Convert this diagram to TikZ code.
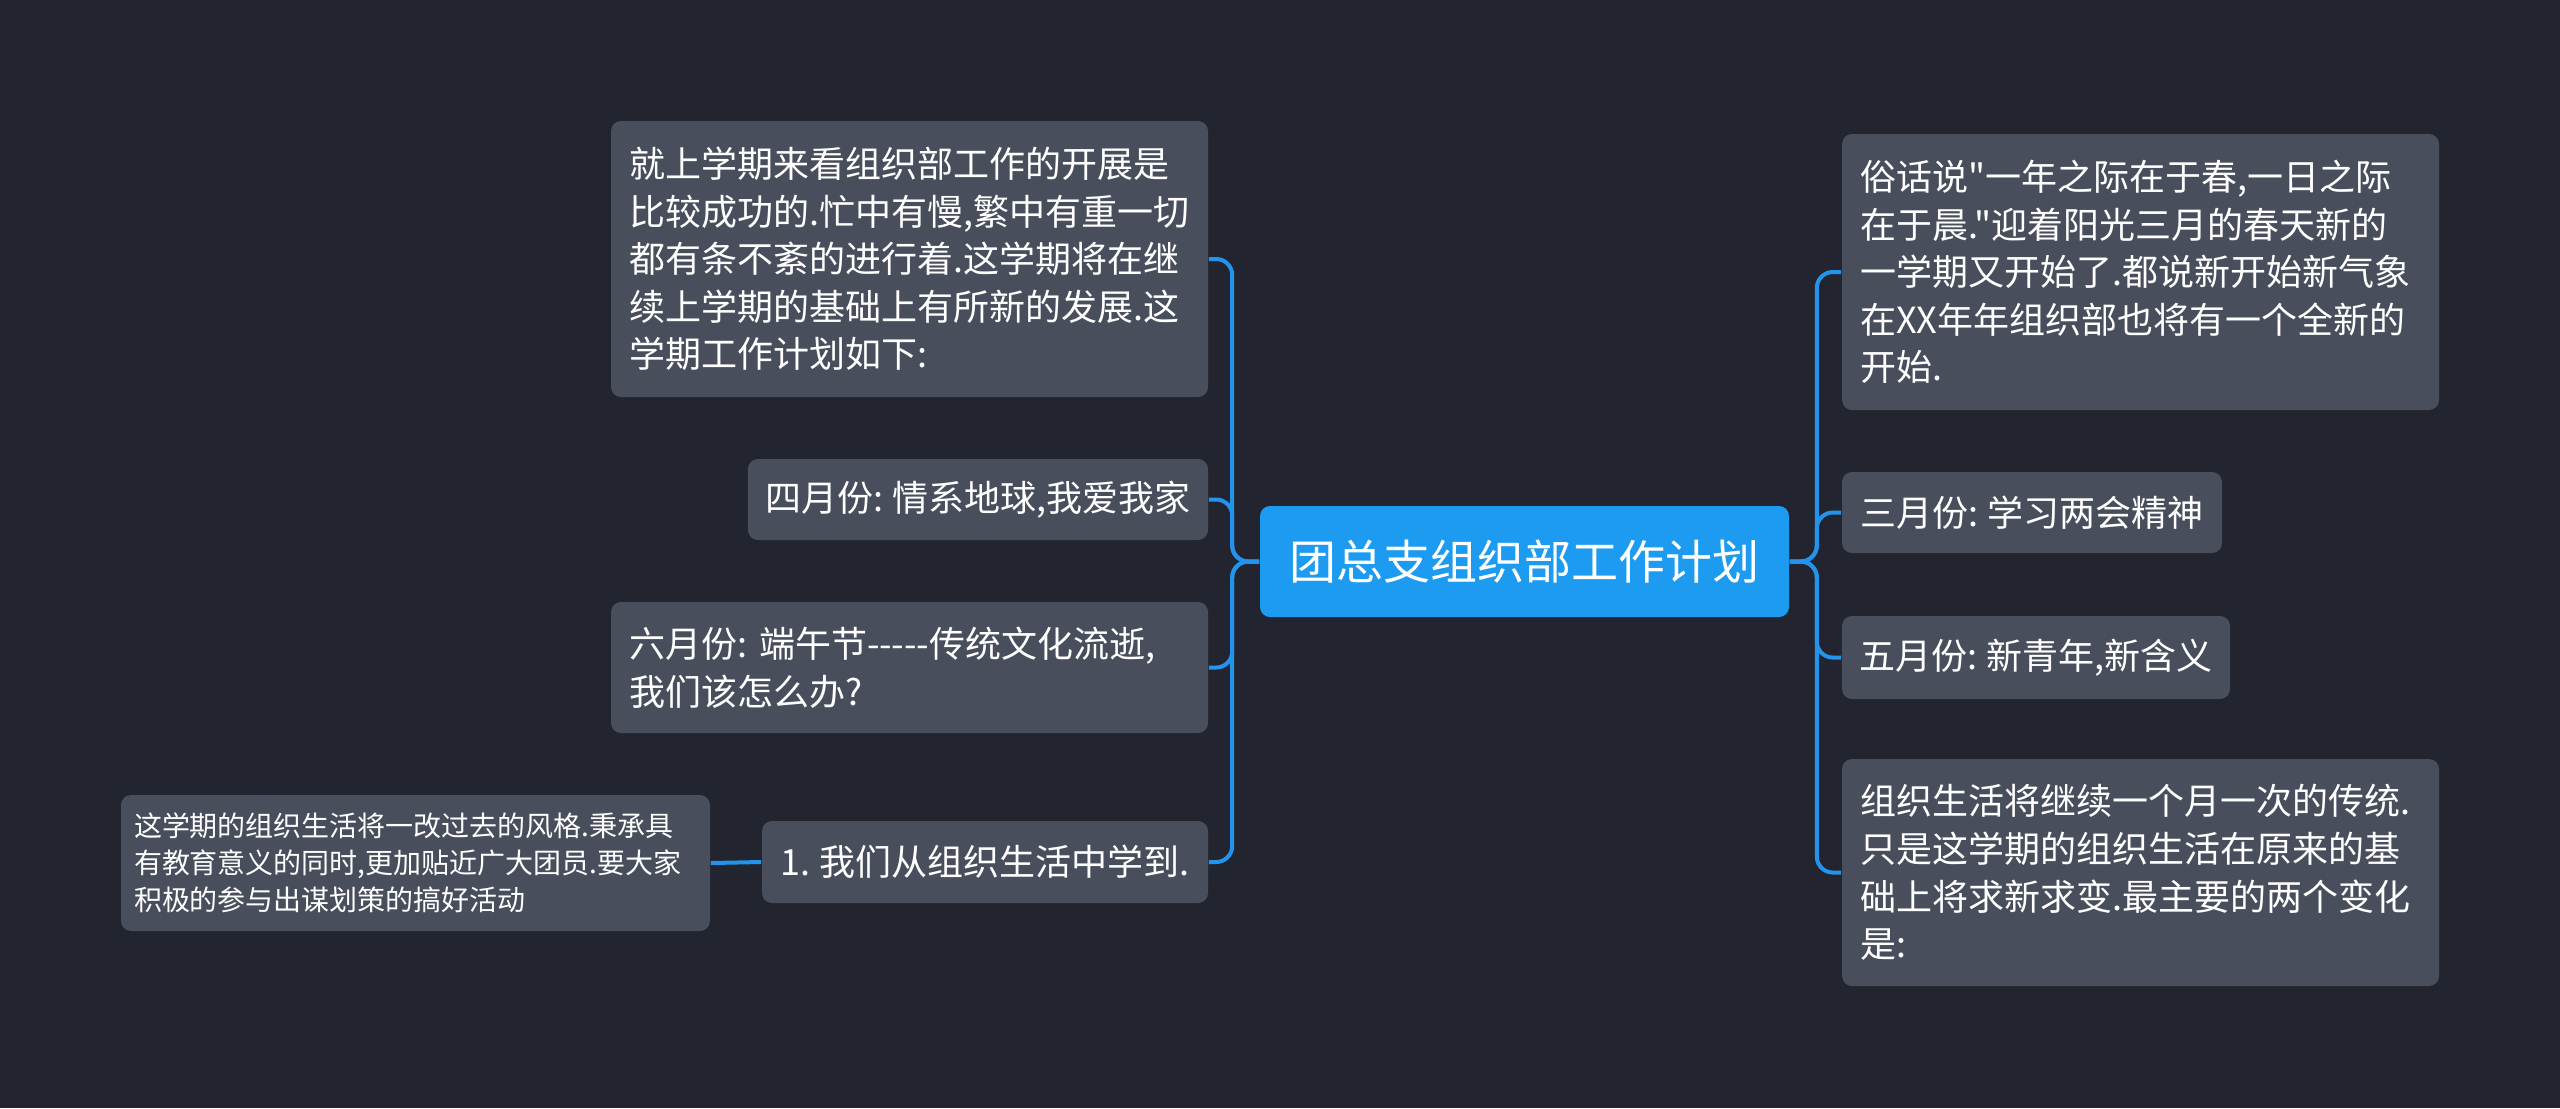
\documentclass[tikz,border=0pt]{standalone}
\usepackage{fontspec}
\newfontfamily\cjkf{Noto Sans CJK SC}
\definecolor{bgc}{HTML}{222530}
\definecolor{boxc}{HTML}{484E5C}
\definecolor{mainc}{HTML}{1D9BF0}
\definecolor{linec}{HTML}{2393EC}
\begin{document}
\frenchspacing
\begin{tikzpicture}[x=0.25pt,y=-0.25pt,
  box/.style={fill=boxc, rounded corners=2.5pt, text=white, inner xsep=4.5pt, inner ysep=0pt,
    font=\cjkf\frenchspacing\fontsize{9pt}{11.9pt}\selectfont},
  multi/.style={box, align=left},
  small/.style={multi, inner xsep=3.25pt, font=\cjkf\frenchspacing\fontsize{7pt}{9.25pt}\selectfont},
  central/.style={fill=mainc, rounded corners=2.5pt, text=white, inner sep=0pt,
    font=\cjkf\fontsize{11.75pt}{14pt}\selectfont},
  conn/.style={draw=linec, line width=1pt, rounded corners=4pt}]
\fill[bgc] (0,0) rectangle (2560,1108);
\useasboundingbox (0,0) rectangle (2560,1108);

\node[central, minimum width=132.25pt, minimum height=27.75pt] (C) at (1524.5,561.5) {团总支组织部工作计划};

\node[multi, minimum width=149.25pt, minimum height=69pt, text width=140.25pt] (B1) at (909.5,259)
 {就上学期来看组织部工作的开展是\\比较成功的.忙中有慢,繁中有重一切\\都有条不紊的进行着.这学期将在继\\续上学期的基础上有所新的发展.这\\学期工作计划如下:};
\node[box, minimum width=115pt, minimum height=20.25pt] (B2) at (978,499.5) {四月份: 情系地球,我爱我家};
\node[multi, minimum width=149.25pt, minimum height=32.75pt, text width=140.25pt] (B3) at (909.5,667.5)
 {六月份: 端午节-{}-{}-{}-{}-传统文化流逝,\\我们该怎么办?};
\node[box, minimum width=111.5pt, minimum height=20.5pt] (B4) at (985,862) {1. 我们从组织生活中学到.};
\node[small, minimum width=147.25pt, minimum height=34pt, text width=140.75pt] (B5) at (415.5,863)
 {这学期的组织生活将一改过去的风格.秉承具\\有教育意义的同时,更加贴近广大团员.要大家\\积极的参与出谋划策的搞好活动};

\node[multi, minimum width=149.25pt, minimum height=69pt, text width=140.25pt] (R1) at (2140.5,272)
 {俗话说"一年之际在于春,一日之际\\在于晨."迎着阳光三月的春天新的\\一学期又开始了.都说新开始新气象\\在XX年年组织部也将有一个全新的\\开始.};
\node[box, minimum width=95pt, minimum height=20.25pt] (R2) at (2032,512.5) {三月份: 学习两会精神};
\node[box, minimum width=97pt, minimum height=20.75pt] (R3) at (2036,657.5) {五月份: 新青年,新含义};
\node[multi, minimum width=149.25pt, minimum height=56.75pt, text width=140.25pt] (R4) at (2140.5,872.5)
 {组织生活将继续一个月一次的传统.\\只是这学期的组织生活在原来的基\\础上将求新求变.最主要的两个变化\\是:};

\foreach \n in {B1,B2,B3,B4}
  \draw[conn] (C.west) -- ++(-27,0) |- (\n.east);
\foreach \n in {R1,R2,R3,R4}
  \draw[conn] (C.east) -- ++(27,0) |- (\n.west);
\draw[conn] (B4.west) -- (B5.east);
\end{tikzpicture}
\end{document}
